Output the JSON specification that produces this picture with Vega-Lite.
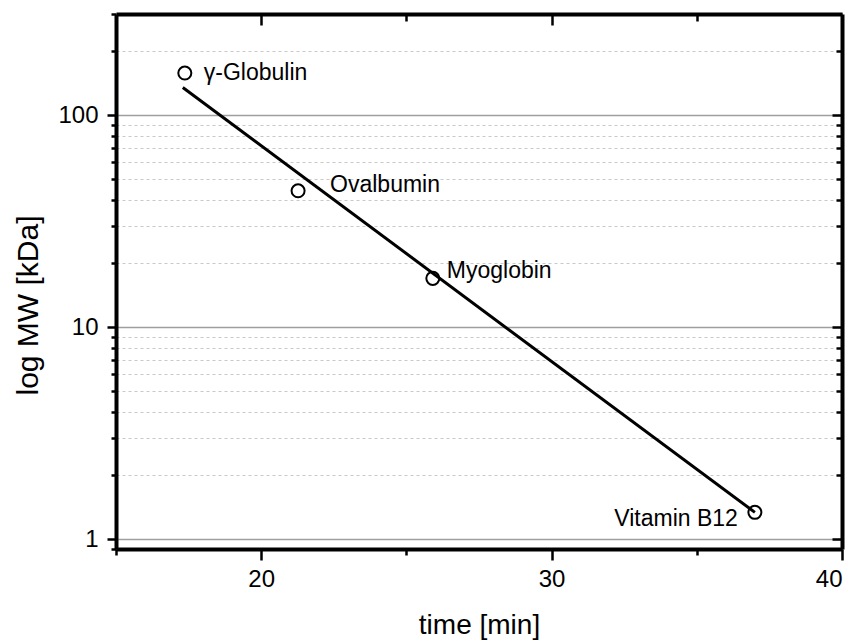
{
  "$schema": "https://vega.github.io/schema/vega-lite/v6.json",
  "autosize": "none",
  "width": 726,
  "height": 535,
  "padding": {"left": 116, "top": 14, "right": 16, "bottom": 92},
  "background": "white",
  "config": {
    "view": {"stroke": null},
    "font": "Liberation Sans",
    "axis": {
      "domain": false,
      "tickColor": "black",
      "tickWidth": 2.5,
      "labelFont": "Liberation Sans",
      "labelFontSize": 24,
      "labelColor": "black",
      "titleFont": "Liberation Sans",
      "titleFontWeight": "normal",
      "titleColor": "black"
    }
  },
  "datasets": {
    "standards": [
      {"protein": "γ-Globulin", "time": 17.37, "mw": 158},
      {"protein": "Ovalbumin", "time": 21.27, "mw": 44},
      {"protein": "Myoglobin", "time": 25.91, "mw": 17},
      {"protein": "Vitamin B12", "time": 37.0, "mw": 1.34}
    ],
    "fit": [
      {"time": 17.3, "mw": 135},
      {"time": 37.0, "mw": 1.34}
    ]
  },
  "resolve": {"axis": {"x": "independent", "y": "independent"}},
  "layer": [
    {
      "data": {"name": "fit"},
      "mark": {"type": "line", "color": "black", "strokeWidth": 3},
      "encoding": {
        "x": {
          "field": "time", "type": "quantitative",
          "scale": {"domain": [15, 40], "nice": false, "zero": false},
          "axis": {
            "orient": "bottom", "values": [20, 30, 40], "tickSize": 11,
            "domain": true, "domainColor": "black", "domainWidth": 4,
            "labelPadding": 7, "grid": false,
            "title": "time [min]", "titleFontSize": 28,
            "titleX": 363, "titleY": 84, "titleBaseline": "alphabetic", "titleAnchor": null
          }
        },
        "y": {
          "field": "mw", "type": "quantitative",
          "scale": {"type": "log", "domain": [0.9, 300], "nice": false},
          "axis": {
            "orient": "left", "values": [1, 10, 100], "tickSize": 9,
            "domain": true, "domainColor": "black", "domainWidth": 4,
            "labelPadding": 9, "format": "d",
            "grid": true, "gridColor": "#9e9e9e", "gridWidth": 1.5,
            "title": "log MW [kDa]", "titleFontSize": 30,
            "titleX": -88, "titleY": 291, "titleAngle": 270,
            "titleAlign": "center", "titleBaseline": "middle", "titleAnchor": null
          }
        }
      }
    },
    {
      "data": {"name": "standards"},
      "mark": {"type": "point", "shape": "circle", "filled": false, "color": "black", "strokeWidth": 2, "size": 170, "opacity": 1},
      "encoding": {
        "x": {
          "field": "time", "type": "quantitative",
          "axis": {"orient": "bottom", "values": [15, 25, 35], "tickSize": 6, "labels": false, "grid": false, "title": null}
        },
        "y": {
          "field": "mw", "type": "quantitative",
          "axis": {
            "orient": "left",
            "values": [2, 3, 4, 5, 6, 7, 8, 9, 20, 30, 40, 50, 60, 70, 80, 90, 200],
            "tickSize": 5, "labels": false, "title": null,
            "grid": true, "gridColor": "#c8c8c8", "gridWidth": 1, "gridDash": [3, 3]
          }
        }
      }
    },
    {
      "data": {"name": "standards"},
      "transform": [{"filter": "datum.protein === 'γ-Globulin'"}],
      "mark": {"type": "text", "align": "left", "baseline": "alphabetic", "dx": 19, "dy": 7, "fontSize": 23, "font": "Liberation Sans", "color": "black"},
      "encoding": {
        "x": {
          "field": "time", "type": "quantitative",
          "axis": {"orient": "top", "values": [20, 30], "offset": -11, "tickSize": 11, "labels": false, "grid": false, "title": null}
        },
        "y": {
          "field": "mw", "type": "quantitative",
          "axis": {"orient": "right", "values": [1, 10, 100], "offset": -10, "tickSize": 10, "labels": false, "grid": false, "title": null}
        },
        "text": {"field": "protein"}
      }
    },
    {
      "data": {"name": "standards"},
      "transform": [{"filter": "datum.protein === 'Ovalbumin'"}],
      "mark": {"type": "text", "align": "left", "baseline": "alphabetic", "dx": 32, "dy": 1, "fontSize": 23, "font": "Liberation Sans", "color": "black"},
      "encoding": {
        "x": {
          "field": "time", "type": "quantitative",
          "axis": {"orient": "top", "values": [25, 35], "offset": -7, "tickSize": 7, "labels": false, "grid": false, "title": null}
        },
        "y": {
          "field": "mw", "type": "quantitative",
          "axis": {
            "orient": "right",
            "values": [0.9, 2, 3, 4, 5, 6, 7, 8, 9, 20, 30, 40, 50, 60, 70, 80, 90, 200, 300],
            "offset": -6, "tickSize": 6, "labels": false, "grid": false, "title": null
          }
        },
        "text": {"field": "protein"}
      }
    },
    {
      "data": {"name": "standards"},
      "transform": [{"filter": "datum.protein === 'Myoglobin'"}],
      "mark": {"type": "text", "align": "left", "baseline": "alphabetic", "dx": 14, "dy": 0, "fontSize": 23, "font": "Liberation Sans", "color": "black"},
      "encoding": {
        "x": {
          "field": "time", "type": "quantitative",
          "axis": {
            "orient": "top", "ticks": false, "labels": false, "grid": false, "title": null,
            "domain": true, "domainColor": "black", "domainWidth": 4
          }
        },
        "y": {
          "field": "mw", "type": "quantitative",
          "axis": {"orient": "left", "values": [0.9, 300], "tickSize": 5, "labels": false, "grid": false, "title": null}
        },
        "text": {"field": "protein"}
      }
    },
    {
      "data": {"name": "standards"},
      "transform": [{"filter": "datum.protein === 'Vitamin B12'"}],
      "mark": {"type": "text", "align": "right", "baseline": "alphabetic", "dx": -17, "dy": 14, "fontSize": 23, "font": "Liberation Sans", "color": "black"},
      "encoding": {
        "x": {"field": "time", "type": "quantitative", "axis": null},
        "y": {
          "field": "mw", "type": "quantitative",
          "axis": {
            "orient": "right", "ticks": false, "labels": false, "grid": false, "title": null,
            "domain": true, "domainColor": "black", "domainWidth": 4
          }
        },
        "text": {"field": "protein"}
      }
    }
  ]
}
